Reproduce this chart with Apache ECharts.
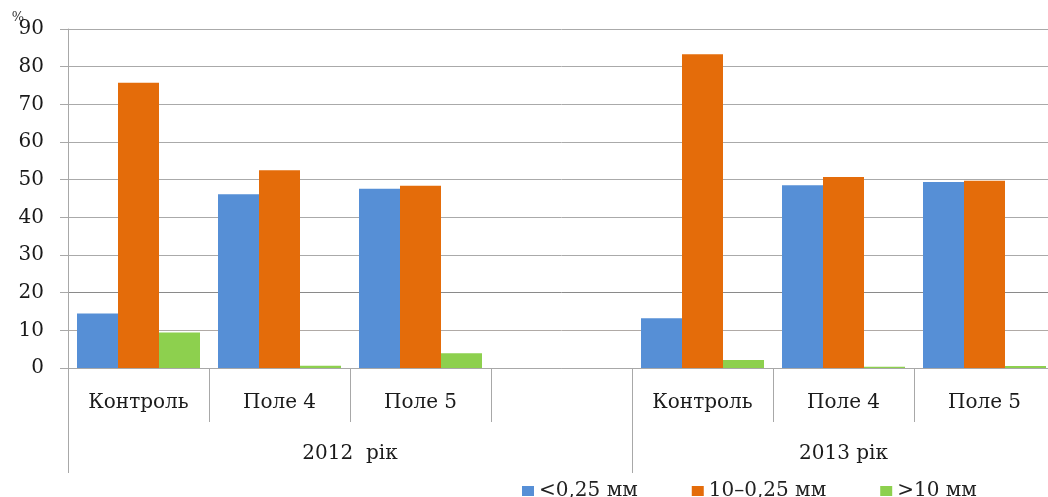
<!DOCTYPE html>
<html>
<head>
<meta charset="utf-8">
<script src="https://cdn.jsdelivr.net/npm/echarts@6/dist/echarts.min.js"></script>
<style>
html,body{margin:0;padding:0;background:#fff;overflow:hidden;}
#chart{width:1055px;height:497px;}
</style>
</head>
<body>
<div id="chart"></div>
<script>
var categories = ['Контроль', 'Поле 4', 'Поле 5', '', 'Контроль', 'Поле 4', 'Поле 5'];
var groupLabels = ['2012  рік', '2013 рік'];
var groupSizes = [4, 3];
var seriesNames = ['<0,25 мм', '10–0,25 мм', '>10 мм'];
var fine = [14.5, 46.1, 47.6, '-', 13.2, 48.5, 49.4];
var mid = [75.7, 52.5, 48.4, '-', 83.3, 50.7, 49.7];
var coarse = [9.4, 0.6, 3.9, '-', 2.1, 0.3, 0.5];
var yTicks = [0, 10, 20, 30, 40, 50, 60, 70, 80, 90];

var FONT = '"DejaVu Serif", serif';
var colors = ['#568fd6', '#e46c0a', '#8dd04e'];

// group boundaries and centres derived from group sizes
var bounds = [0], centres = [], acc = 0;
groupSizes.forEach(function (s) { centres.push(acc + s / 2); acc += s; bounds.push(acc); });

var chart = echarts.init(document.getElementById('chart'));
chart.setOption({
  animation: false,
  color: colors,
  grid: { left: 68, top: 29, bottom: 129, right: 0, containLabel: false },
  legend: {
    left: 517, top: 476, itemWidth: 12, itemHeight: 10, itemGap: 54,
    icon: 'rect',
    textStyle: { fontFamily: FONT, fontSize: 20, color: '#222' },
    data: seriesNames
  },
  xAxis: [
    {
      type: 'category', data: categories,
      axisLine: { lineStyle: { color: '#a8a8a8' } },
      axisTick: { show: true, length: 54, interval: 0, lineStyle: { color: '#a8a8a8' } },
      axisLabel: { interval: 0, margin: 25, fontFamily: FONT, fontSize: 20, color: '#1a1a1a' }
    },
    {
      type: 'value', min: 0, max: categories.length, position: 'bottom',
      axisLine: { show: false },
      splitLine: { show: false },
      axisTick: { show: true, length: 105, customValues: bounds, lineStyle: { color: '#a8a8a8' } },
      axisLabel: {
        customValues: centres, margin: 76, fontFamily: FONT, fontSize: 20, color: '#1a1a1a',
        formatter: function (v) { var i = centres.indexOf(v); return i >= 0 ? groupLabels[i] : ''; }
      }
    }
  ],
  yAxis: {
    type: 'value', min: yTicks[0], max: yTicks[yTicks.length - 1], interval: 10,
    name: '%', nameLocation: 'end', nameGap: 5, nameMoveOverlap: false,
    nameTextStyle: { fontFamily: FONT, fontSize: 13, color: '#333', align: 'right', padding: [0, 44, 0, 0] },
    axisLine: { show: true, lineStyle: { color: '#a8a8a8' } },
    axisTick: { show: true, length: 8, lineStyle: { color: '#a8a8a8' } },
    axisLabel: { margin: 24, fontFamily: FONT, fontSize: 20, color: '#1a1a1a' },
    splitLine: { lineStyle: { width: 1, color: ['#a8a8a8', '#b0aaa6', '#8a8a8a', '#aaaaaa', '#aaaaaa', '#aaaaaa', '#aaaaaa', '#aaaaaa', '#aaaaaa', '#aaaaaa'] } }
  },
  series: [
    { name: seriesNames[0], type: 'bar', data: fine, barWidth: 41, barGap: '0%' },
    { name: seriesNames[1], type: 'bar', data: mid, barWidth: 41, barGap: '0%' },
    { name: seriesNames[2], type: 'bar', data: coarse, barWidth: 41, barGap: '0%' }
  ]
});
</script>
</body>
</html>
